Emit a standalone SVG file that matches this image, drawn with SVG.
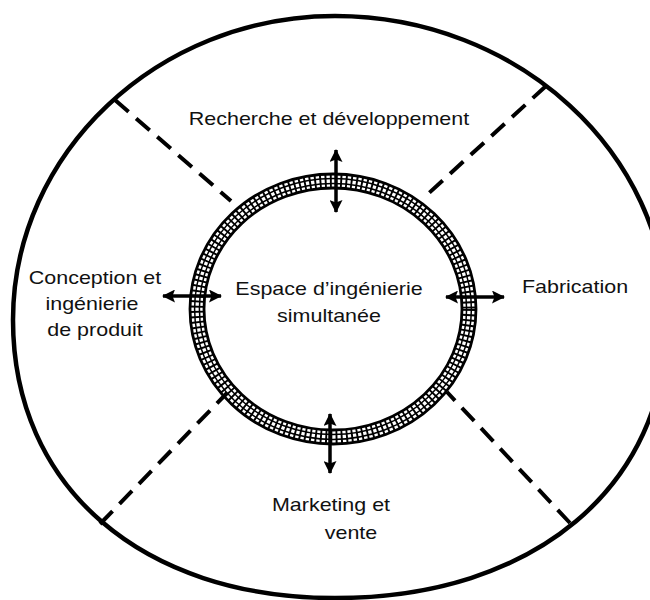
<svg xmlns="http://www.w3.org/2000/svg" width="650" height="600" viewBox="0 0 650 600">
  <style>
    .lbl { font-family: "Liberation Sans", Arial, sans-serif; font-size: 19px; fill: #111; text-anchor: middle; }
    .outer { fill: none; stroke: #000; stroke-width: 4.5; }
    .divider { fill: none; stroke: #000; stroke-width: 4; stroke-dasharray: 18 10; }
    .edge { fill: none; stroke: #000; stroke-width: 2.8; }
    .grid { fill: none; stroke: #000; stroke-width: 1.5; }
    .ticks { fill: none; stroke: #000; stroke-width: 14; stroke-dasharray: 1.9 3.3; }
    .link { stroke: #000; stroke-width: 3.5; fill: none; marker-start: url(#head); marker-end: url(#head); }
  </style>
  <defs>
    <marker id="head" viewBox="0 0 13 13" refX="12" refY="6.5" markerWidth="13" markerHeight="13" markerUnits="userSpaceOnUse" orient="auto-start-reverse">
      <path d="M0,0 L13,6.5 L0,13 L2.5,6.5 z" fill="#000"/>
    </marker>
  </defs>

  <rect width="650" height="600" fill="#fff"/>

  <!-- outer boundary of the enterprise (slightly fuller in its lower half) -->
  <g id="boundary">
    <path class="outer" d="M13,320 C13,152.8 157.9,16 335,16 C517.6,16 667,152.8 667,320 C667,486.8 534.2,598 335,598 C141.8,598 13,486.8 13,320 Z"/>
  </g>

  <!-- hatched ring: concurrent engineering space -->
  <g id="ring">
    <ellipse class="ticks" cx="333" cy="309" rx="136" ry="128"/>
    <ellipse class="grid" cx="333" cy="309" rx="138.4" ry="130.4"/>
    <ellipse class="grid" cx="333" cy="309" rx="133.6" ry="125.6"/>
    <ellipse class="edge" cx="333" cy="309" rx="143" ry="135"/>
    <ellipse class="edge" cx="333" cy="309" rx="129" ry="121"/>
  </g>

  <!-- sector dividers and exchange arrows -->
  <g id="connectors">
    <line class="divider" x1="115" y1="100" x2="231" y2="201"/>
    <line class="divider" x1="546" y1="86" x2="429" y2="193"/>
    <line class="divider" x1="100" y1="524" x2="227" y2="393"/>
    <line class="divider" x1="570" y1="523" x2="447" y2="392"/>

    <line class="link" x1="163" y1="296" x2="221" y2="296"/>
    <line class="link" x1="446" y1="297" x2="504" y2="297"/>
    <line class="link" x1="336" y1="150" x2="336" y2="212"/>
    <line class="link" x1="330" y1="414" x2="330" y2="473"/>
  </g>

  <g id="centre">
    <text class="lbl" transform="translate(329,295) scale(1.13,1)">Espace d’ingénierie</text>
    <text class="lbl" transform="translate(329,322) scale(1.13,1)">simultanée</text>
  </g>

  <g id="rd">
    <text class="lbl" transform="translate(329,125) scale(1.13,1)">Recherche et développement</text>
  </g>

  <g id="design">
    <text class="lbl" transform="translate(95,284) scale(1.13,1)">Conception et</text>
    <text class="lbl" transform="translate(92,310) scale(1.13,1)">ingénierie</text>
    <text class="lbl" transform="translate(95,336) scale(1.13,1)">de produit</text>
  </g>

  <g id="manufacturing">
    <text class="lbl" transform="translate(575,293) scale(1.13,1)">Fabrication</text>
  </g>

  <g id="marketing">
    <text class="lbl" transform="translate(331,511) scale(1.13,1)">Marketing et</text>
    <text class="lbl" transform="translate(351,539) scale(1.13,1)">vente</text>
  </g>
</svg>
